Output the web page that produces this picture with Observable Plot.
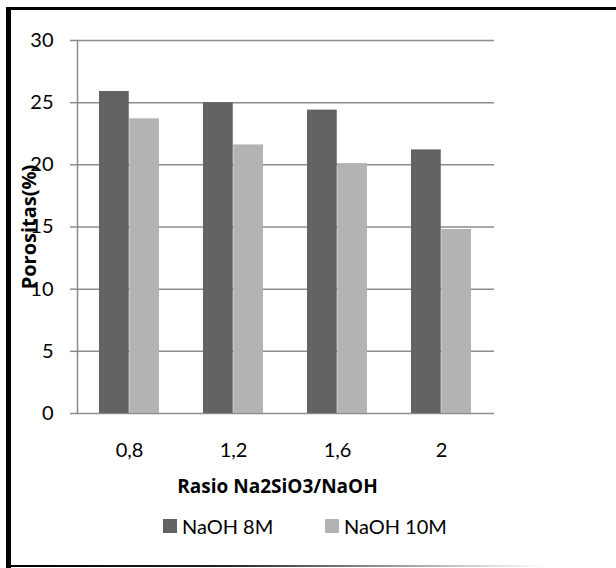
<!DOCTYPE html>
<html><head><meta charset="utf-8">
<script src="https://cdn.jsdelivr.net/npm/d3@7"></script>
<script src="https://cdn.jsdelivr.net/npm/@observablehq/plot@0.6"></script>
<style>
body{margin:0;background:#fff;}
#wrap{position:relative;width:616px;height:568px;overflow:hidden;font-family:Lato,"Open Sans",sans-serif;color:#000;}
.bl{position:absolute;left:6px;top:7px;width:5px;height:561px;background:#000;}
.bt{position:absolute;left:6px;top:7px;width:610px;height:3px;background:#000;}
.bb{position:absolute;left:6px;top:565px;width:540px;height:2px;background:linear-gradient(to right,#000 0%,#222 40%,rgba(0,0,0,0.2) 85%,rgba(0,0,0,0) 100%);}
#chart{position:absolute;left:0;top:0;}
#chart g[aria-label="y-axis label"] text{font-weight:bold;font-family:"Open Sans",sans-serif;font-size:20px;}
#xtitle{position:absolute;top:473px;left:0;width:555px;text-align:center;font-weight:bold;font-size:19px;font-family:"Open Sans",sans-serif;}
#legend{position:absolute;top:514px;left:163px;font-size:20px;}
.item{position:absolute;top:0;display:flex;align-items:center;white-space:nowrap;}
.sw{width:14px;height:14px;margin-right:5px;}
</style>
</head><body>
<div id="wrap">
  <div id="chart"></div>
  <div id="xtitle"></div>
  <div id="legend"></div>
  <div class="bl"></div><div class="bt"></div><div class="bb"></div>
</div>
<script>
const categories = ["0,8", "1,2", "1,6", "2"];
const series = ["NaOH 8M", "NaOH 10M"];
const naoh8M = [25.9, 25.0, 24.4, 21.2];
const naoh10M = [23.7, 21.6, 20.1, 14.8];
const yTicks = [0, 5, 10, 15, 20, 25, 30];
const colors = ["#626262", "#b3b3b3"];
const yTitle = "Porositas(%)";
const xTitle = "Rasio Na2SiO3/NaOH";

const d8 = categories.map((c, i) => ({cat: c, series: series[0], value: naoh8M[i]}));
const d10 = categories.map((c, i) => ({cat: c, series: series[1], value: naoh10M[i]}));

const chart = Plot.plot({
  width: 616, height: 468,
  marginTop: 40, marginBottom: 55, marginLeft: 77, marginRight: 122,
  style: {fontFamily: "Lato, 'Open Sans', sans-serif", fontSize: "20px", color: "#000", background: "transparent"},
  x: {domain: categories, paddingInner: 0.42, paddingOuter: 0.21, label: null},
  y: {domain: [0, 30], ticks: yTicks, label: null},
  color: {domain: series, range: colors},
  marks: [
    Plot.gridY(yTicks, {stroke: "#8c8c8c", strokeOpacity: 1, strokeWidth: 1.5}),
    Plot.frame({anchor: "left", stroke: "#8c8c8c", strokeWidth: 1.5}),
    Plot.barY(d8, {x: "cat", y: "value", fill: "series", insetRight: 30.25, insetLeft: 0}),
    Plot.barY(d10, {x: "cat", y: "value", fill: "series", insetLeft: 30.25, insetRight: 0}),
    Plot.axisY(yTicks, {tickSize: 7, tickPadding: 17, stroke: "#8c8c8c", strokeWidth: 1.5,
      label: yTitle, labelAnchor: "center", labelArrow: "none", labelOffset: 56}),
    Plot.axisX({tickSize: 0, tickPadding: 29, label: null})
  ]
});
document.getElementById("chart").append(chart);
document.getElementById("xtitle").textContent = xTitle;
const lg = document.getElementById("legend");
const legendX = [0, 162];
series.forEach((s, i) => {
  const it = document.createElement("div");
  it.className = "item";
  it.style.left = legendX[i] + "px";
  const sw = document.createElement("span");
  sw.className = "sw"; sw.style.background = colors[i];
  const t = document.createElement("span");
  t.textContent = s;
  it.append(sw, t);
  lg.append(it);
});
</script>
</body></html>
